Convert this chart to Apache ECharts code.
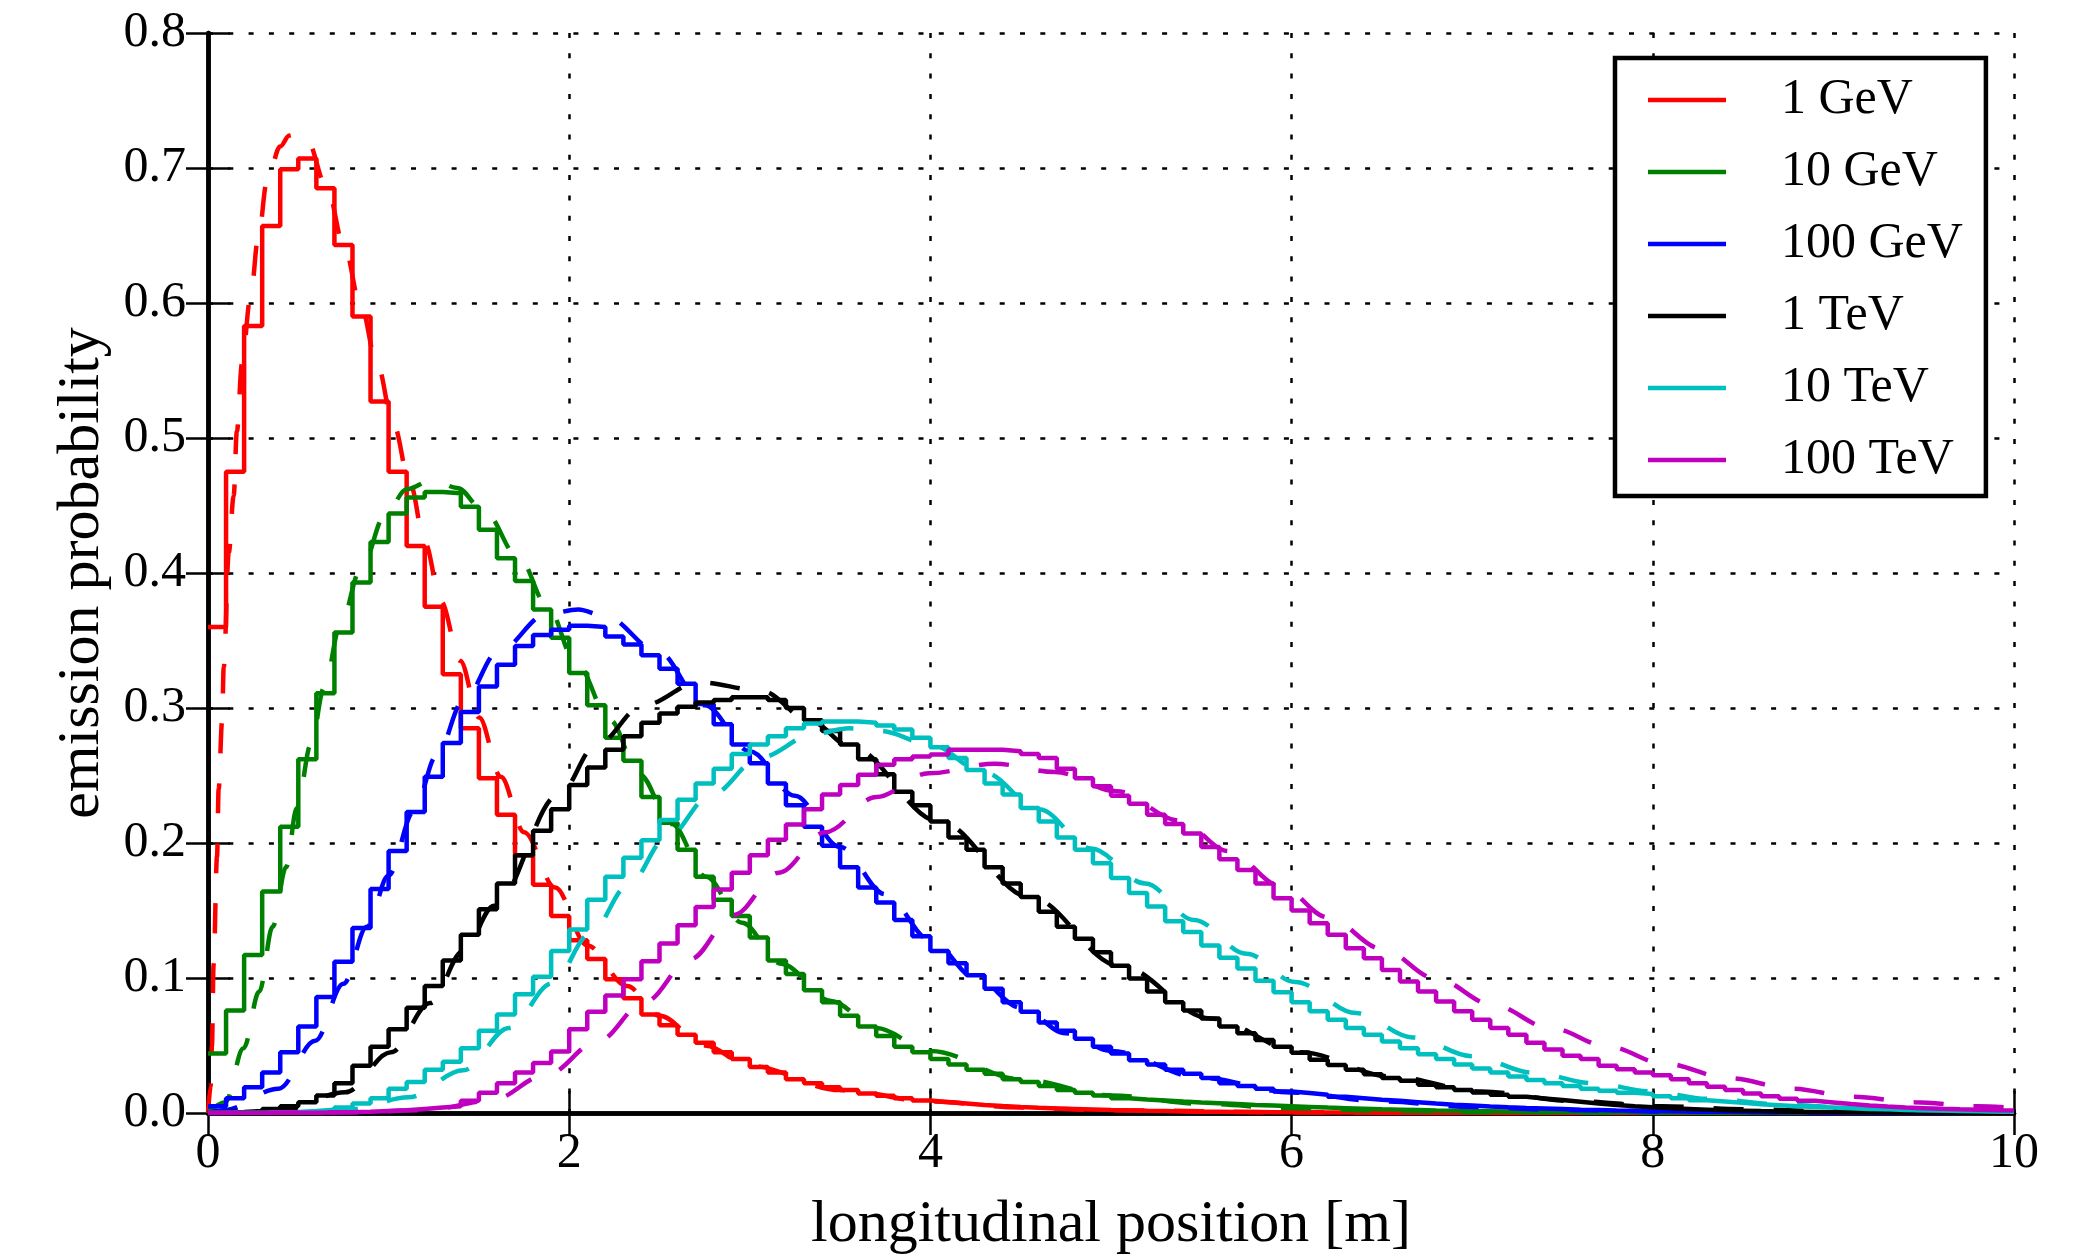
<!DOCTYPE html>
<html>
<head>
<meta charset="utf-8">
<script src="https://cdn.jsdelivr.net/npm/echarts@6/dist/echarts.min.js"></script>
<style>
html,body{margin:0;padding:0;background:#fff;}
#chart{width:2074px;height:1260px;}
</style>
</head>
<body>
<div id="chart"></div>
<script>
// ---- data ----
var seriesNames = ['1 GeV', '10 GeV', '100 GeV', '1 TeV', '10 TeV', '100 TeV'];
var seriesColors = ['#ff0000', '#008000', '#0000ff', '#000000', '#00bfbf', '#bf00bf'];
var binWidth = 0.1;
var xTicks = [0, 2, 4, 6, 8, 10];
var yTicks = [0.0, 0.1, 0.2, 0.3, 0.4, 0.5, 0.6, 0.7, 0.8];

// histogram heights, one value per 0.1 m bin (0 .. 10 m)
var hist1GeV = [
 0.360,0.475,0.583,0.657,0.699,0.707,0.685,0.643,0.590,0.527,
 0.475,0.420,0.375,0.325,0.285,0.248,0.221,0.191,0.169,0.146,
 0.128,0.114,0.099,0.085,0.073,0.065,0.058,0.052,0.045,0.040,
 0.034,0.030,0.025,0.022,0.019,0.017,0.0145,0.0128,0.011,0.0093,
 0.0080,0.0070,0.0060,0.0052,0.0045,0.0039,0.0034,0.0030,0.0026,0.0022,
 0.0019,0.0016,0.0014,0.0012,0.0010,0.0009,0.0008,0.0007,0.0006,0.0005,
 0.0004,0.0004,0.0003,0.0003,0.0002,0.0002,0.0002,0.0001,0.0001,0.0001,
 0.0001,0.0001,0,0,0,0,0,0,0,0,
 0,0,0,0,0,0,0,0,0,0,
 0,0,0,0,0,0,0,0,0,0];
var hist10GeV = [
 0.044,0.076,0.117,0.164,0.212,0.262,0.311,0.356,0.393,0.423,
 0.444,0.456,0.460,0.459,0.449,0.432,0.411,0.394,0.373,0.352,
 0.326,0.302,0.278,0.261,0.234,0.215,0.195,0.175,0.158,0.146,
 0.130,0.113,0.103,0.091,0.082,0.072,0.064,0.057,0.049,0.045,
 0.040,0.036,0.032,0.029,0.025,0.023,0.020,0.017,0.015,0.013,
 0.011,0.010,0.0093,0.0085,0.0078,0.0072,0.0066,0.0060,0.0055,0.0050,
 0.0045,0.0040,0.0036,0.0032,0.0028,0.0025,0.0022,0.0019,0.0017,0.0015,
 0.0013,0.0011,0.0010,0.0009,0.0008,0.0007,0.0006,0.0005,0.0005,0.0004,
 0.0004,0.0003,0.0003,0.0003,0.0002,0.0002,0.0002,0.0002,0.0001,0.0001,
 0.0001,0.0001,0.0001,0.0001,0.0001,0.0001,0,0,0,0];
var hist100GeV = [
 0.005,0.011,0.019,0.030,0.045,0.064,0.086,0.112,0.137,0.166,
 0.194,0.223,0.249,0.274,0.297,0.316,0.332,0.346,0.354,0.358,
 0.361,0.360,0.353,0.347,0.339,0.329,0.318,0.303,0.288,0.273,
 0.259,0.244,0.228,0.212,0.198,0.182,0.167,0.156,0.143,0.131,
 0.120,0.111,0.102,0.092,0.082,0.075,0.067,0.061,0.055,0.049,
 0.044,0.039,0.036,0.032,0.029,0.026,0.022,0.020,0.018,0.016,
 0.0148,0.0135,0.012,0.011,0.0098,0.009,0.008,0.007,0.0062,0.0055,
 0.0048,0.0042,0.0037,0.0033,0.0029,0.0025,0.0022,0.0019,0.0017,0.0015,
 0.0013,0.0012,0.0010,0.0009,0.0008,0.0007,0.0006,0.0005,0.0005,0.0004,
 0.0004,0.0003,0.0003,0.0003,0.0002,0.0002,0.0002,0.0002,0.0001,0.0001];
var hist1TeV = [
 0.0002,0.0007,0.0015,0.003,0.005,0.008,0.013,0.022,0.035,0.049,
 0.062,0.078,0.094,0.113,0.132,0.151,0.170,0.191,0.209,0.225,
 0.243,0.256,0.269,0.279,0.289,0.296,0.301,0.304,0.306,0.308,
 0.308,0.306,0.300,0.291,0.283,0.273,0.262,0.251,0.238,0.228,
 0.216,0.204,0.195,0.182,0.170,0.160,0.149,0.138,0.129,0.119,
 0.109,0.0996,0.090,0.082,0.076,0.070,0.064,0.059,0.054,0.049,
 0.0447,0.0395,0.0355,0.032,0.0287,0.026,0.0238,0.021,0.019,0.017,
 0.0152,0.0135,0.012,0.0108,0.0096,0.0083,0.007,0.006,0.005,0.0042,
 0.0035,0.003,0.0025,0.002,0.0017,0.0014,0.0012,0.001,0.0008,0.0007,
 0.0006,0.0005,0.0005,0.0004,0.0004,0.0003,0.0003,0.0002,0.0002,0.0002];
var hist10TeV = [
 0,0.0001,0.0002,0.0004,0.0008,0.0015,0.0025,0.004,0.007,0.011,
 0.018,0.023,0.032,0.038,0.048,0.061,0.073,0.088,0.101,0.120,
 0.136,0.158,0.175,0.189,0.202,0.217,0.232,0.244,0.255,0.266,
 0.273,0.279,0.285,0.2885,0.290,0.290,0.289,0.287,0.284,0.278,
 0.271,0.263,0.254,0.244,0.236,0.226,0.216,0.204,0.195,0.185,
 0.174,0.163,0.153,0.142,0.134,0.124,0.115,0.107,0.098,0.0895,
 0.082,0.0754,0.069,0.063,0.058,0.053,0.048,0.0435,0.040,0.036,
 0.033,0.030,0.027,0.0245,0.022,0.020,0.018,0.0165,0.015,0.014,
 0.0125,0.011,0.0095,0.0085,0.0075,0.0065,0.0058,0.005,0.0045,0.004,
 0.0035,0.003,0.0027,0.0023,0.002,0.0018,0.0015,0.0013,0.0011,0.001];
var hist100TeV = [
 0,0,0,0.0001,0.0001,0.0002,0.0004,0.0006,0.0010,0.0015,
 0.002,0.003,0.004,0.005,0.009,0.015,0.022,0.030,0.037,0.0455,
 0.062,0.075,0.087,0.099,0.1125,0.1255,0.139,0.1526,0.1655,0.178,
 0.191,0.2024,0.2137,0.225,0.236,0.243,0.2506,0.258,0.262,0.264,
 0.2655,0.269,0.269,0.269,0.268,0.266,0.263,0.255,0.248,0.242,
 0.235,0.229,0.221,0.214,0.207,0.197,0.188,0.180,0.170,0.159,
 0.150,0.1405,0.132,0.122,0.1147,0.106,0.0975,0.090,0.0826,0.0754,
 0.069,0.063,0.058,0.052,0.047,0.0425,0.040,0.035,0.0324,0.030,
 0.028,0.025,0.022,0.0195,0.017,0.0145,0.0125,0.0105,0.009,0.0078,
 0.0066,0.0056,0.0048,0.0041,0.0036,0.0031,0.0027,0.0024,0.0021,0.0019];

// dashed fit curves, [position m, probability]
var fit1GeV = [[0,0],[0.015,0.02],[0.022,0.05],[0.031,0.11],[0.05,0.19],[0.059,0.24],[0.078,0.29],[0.087,0.33],[0.115,0.415],[0.142,0.457],[0.16,0.505],[0.188,0.555],[0.234,0.603],[0.28,0.65],[0.326,0.69],[0.4,0.716],[0.45,0.724],[0.5,0.726],[0.55,0.72],[0.659,0.685],[0.754,0.642],[0.846,0.598],[0.938,0.554],[1.027,0.51],[1.119,0.466],[1.202,0.422],[1.29,0.379],[1.396,0.335],[1.501,0.293],[1.621,0.249],[1.75,0.208],[1.922,0.167],[2.1,0.124],[2.32,0.094],[2.5,0.072],[2.75,0.05],[3.0,0.035],[3.5,0.017],[4.0,0.0085],[4.5,0.004],[5.0,0.002],[6.0,0.0005],[7.0,0.0001],[10,0]];
var fit10GeV = [[0,0],[0.096,0.008],[0.197,0.048],[0.284,0.09],[0.358,0.138],[0.432,0.182],[0.492,0.226],[0.57,0.273],[0.643,0.315],[0.732,0.361],[0.846,0.403],[0.985,0.444],[1.1,0.462],[1.243,0.469],[1.38,0.463],[1.525,0.4465],[1.728,0.41],[1.876,0.376],[2.04,0.333],[2.226,0.291],[2.388,0.251],[2.567,0.214],[2.758,0.175],[2.956,0.141],[3.174,0.1105],[3.45,0.083],[3.7,0.063],[4.0,0.046],[4.5,0.025],[5.0,0.013],[5.5,0.0068],[6.0,0.0035],[6.5,0.0017],[7.0,0.0008],[8.0,0.0002],[10,0]];
var fit100GeV = [[0,0],[0.087,0.002],[0.391,0.018],[0.594,0.0535],[0.75,0.0957],[0.88,0.138],[1.0,0.176],[1.138,0.223],[1.267,0.265],[1.414,0.3055],[1.608,0.342],[1.876,0.3696],[2.05,0.373],[2.2,0.368],[2.49,0.342],[2.75,0.302],[3.0,0.268],[3.25,0.235],[3.5,0.197],[3.75,0.162],[4.0,0.128],[4.25,0.1],[4.5,0.078],[4.75,0.059],[5.0,0.046],[5.5,0.026],[6.0,0.0152],[6.5,0.0085],[7.0,0.0045],[7.5,0.0023],[8.0,0.0012],[9.0,0.0003],[10,0.0001]];
var fit1TeV = [[0,0],[0.4,0.002],[0.76,0.0153],[1.013,0.045],[1.23,0.0814],[1.414,0.12],[1.584,0.1535],[1.944,0.236],[2.15,0.2726],[2.41,0.302],[2.72,0.319],[3.06,0.313],[3.35,0.289],[3.55,0.272],[4.05,0.216],[4.55,0.16],[5.05,0.109],[5.55,0.07],[6.05,0.045],[6.55,0.027],[7.05,0.016],[7.55,0.009],[8.05,0.005],[8.5,0.0028],[9.0,0.0014],[10,0.0003]];
var fit10TeV = [[0,0],[0.5,0.0005],[0.8,0.003],[1.11,0.0116],[1.414,0.0317],[1.667,0.063],[1.907,0.0962],[2.115,0.1325],[2.327,0.1687],[2.536,0.2034],[2.786,0.2357],[3.057,0.2633],[3.36,0.281],[3.55,0.285],[3.72,0.283],[4.0,0.273],[4.3,0.252],[4.6,0.225],[4.89,0.196],[5.19,0.17],[5.46,0.143],[5.75,0.118],[6.02,0.097],[6.357,0.074],[6.67,0.056],[7.0,0.042],[7.33,0.03],[7.67,0.022],[7.99,0.016],[8.3,0.0105],[8.7,0.0065],[9.0,0.0045],[9.5,0.0022],[10,0.001]];
var fit100TeV = [[0,0],[0.8,0.0005],[1.2,0.002],[1.563,0.009],[1.876,0.0284],[2.157,0.053],[2.42,0.0824],[2.67,0.114],[2.91,0.1467],[3.16,0.178],[3.418,0.208],[3.7,0.234],[3.99,0.2516],[4.356,0.2587],[4.69,0.2526],[5.03,0.2384],[5.38,0.2165],[5.65,0.194],[5.94,0.168],[6.2,0.145],[6.5,0.1216],[6.8,0.0995],[7.116,0.08],[7.43,0.063],[7.76,0.049],[8.05,0.037],[8.426,0.0257],[8.77,0.018],[9.11,0.012],[9.45,0.008],[9.8,0.005],[10,0.0038]];

var histograms = [hist1GeV, hist10GeV, hist100GeV, hist1TeV, hist10TeV, hist100TeV];
var fits = [fit1GeV, fit10GeV, fit100GeV, fit1TeV, fit10TeV, fit100TeV];

// ---- chart ----
var FONT = 'Liberation Serif';
var LW = 4.5;

function histPoints(h) {
  var pts = [];
  for (var i = 0; i < h.length; i++) pts.push([+(i * binWidth).toFixed(2), h[i]]);
  pts.push([+(h.length * binWidth).toFixed(2), h[h.length - 1]]);
  return pts;
}

var series = [];
for (var k = 0; k < seriesNames.length; k++) {
  series.push({
    name: seriesNames[k], type: 'line', step: 'end', data: histPoints(histograms[k]),
    symbol: 'none', showSymbol: false, color: seriesColors[k],
    lineStyle: { color: seriesColors[k], width: LW }, z: 3, silent: true
  });
  series.push({
    name: seriesNames[k] + ' fit', type: 'line', smooth: 0.35, smoothMonotone: 'x', data: fits[k],
    symbol: 'none', showSymbol: false, color: seriesColors[k],
    lineStyle: { color: seriesColors[k], width: LW, type: [30, 30] }, z: 3, silent: true
  });
}

var axisLineStyle = { show: true, lineStyle: { color: '#000', width: 4.5 } };
var tickStyle = { show: true, inside: true, length: 22, lineStyle: { color: '#000', width: 2.5 } };
var gridLineStyle = { show: true, lineStyle: { color: '#000', width: 2.5, type: [5, 15.3] } };

var chart = echarts.init(document.getElementById('chart'), null, { renderer: 'canvas' });
chart.setOption({
  animation: false,
  backgroundColor: '#fff',
  grid: { left: 208, right: 60, top: 33, bottom: 134, containLabel: false },
  xAxis: [{
    type: 'value', min: xTicks[0], max: xTicks[xTicks.length - 1], interval: xTicks[1] - xTicks[0],
    name: 'longitudinal position [m]', nameLocation: 'middle', nameGap: 82,
    nameTextStyle: { fontFamily: FONT, fontSize: 60, color: '#000' },
    axisLine: axisLineStyle, axisTick: tickStyle, splitLine: gridLineStyle,
    axisLabel: { fontFamily: FONT, fontSize: 50, color: '#000', margin: 16 }
  }, {
    type: 'value', position: 'top', min: xTicks[0], max: xTicks[xTicks.length - 1], interval: xTicks[1] - xTicks[0],
    axisLine: axisLineStyle, axisTick: tickStyle, splitLine: { show: false }, axisLabel: { show: false }
  }],
  yAxis: [{
    type: 'value', min: yTicks[0], max: yTicks[yTicks.length - 1], interval: 0.1,
    name: 'emission probability', nameLocation: 'middle', nameGap: 96, nameRotate: 90,
    nameTextStyle: { fontFamily: FONT, fontSize: 60, color: '#000' },
    axisLine: axisLineStyle, axisTick: tickStyle, splitLine: gridLineStyle,
    axisLabel: { fontFamily: FONT, fontSize: 50, color: '#000', margin: 22,
      formatter: function (v) { return v.toFixed(1); } }
  }, {
    type: 'value', position: 'right', min: yTicks[0], max: yTicks[yTicks.length - 1], interval: 0.1,
    axisLine: axisLineStyle, axisTick: tickStyle, splitLine: { show: false }, axisLabel: { show: false }
  }],
  legend: {
    data: seriesNames, orient: 'vertical', left: 1615, top: 58,
    padding: [17, 23, 11, 33], itemWidth: 78, itemHeight: 4.5, itemGap: 22, icon: 'rect',
    backgroundColor: '#fff', borderColor: '#000', borderWidth: 4.5, borderRadius: 0,
    selectedMode: false,
    formatter: function (n) { return '\u2003' + n; },
    textStyle: { fontFamily: FONT, fontSize: 50, lineHeight: 50, color: '#000' }
  },
  series: series
});
</script>
</body>
</html>
